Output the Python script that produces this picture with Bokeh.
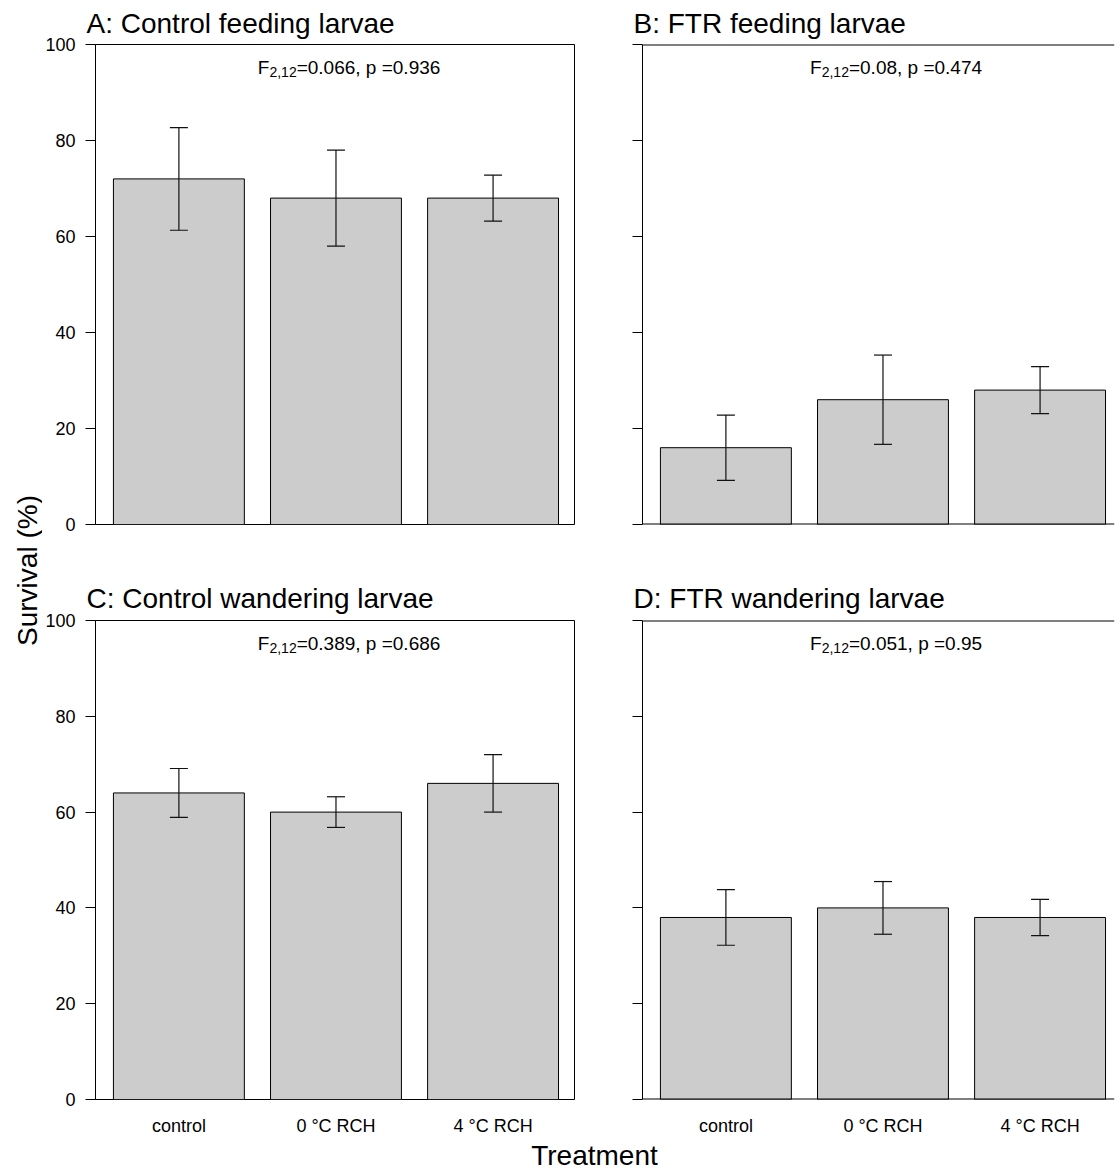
import numpy as np
from bokeh.plotting import figure
from bokeh.models import ColumnDataSource, Range1d, FixedTicker, Whisker, TeeHead, Span
from bokeh.layouts import row, column
from bokeh.embed import file_html
from bokeh.resources import INLINE
from bokeh.core.properties import value

# ---------------- data ----------------
categories = ["control", "0 °C RCH", "4 °C RCH"]
y_ticks = [0, 20, 40, 60, 80, 100]

panel_titles = ["A: Control feeding larvae", "B: FTR feeding larvae",
                "C: Control wandering larvae", "D: FTR wandering larvae"]

survival_a = [72.0, 68.0, 68.0]
se_a = [10.7, 10.0, 4.8]
survival_b = [16.0, 26.0, 28.0]
se_b = [6.8, 9.3, 4.9]
survival_c = [64.0, 60.0, 66.0]
se_c = [5.1, 3.2, 6.0]
survival_d = [38.0, 40.0, 38.0]
se_d = [5.8, 5.5, 3.8]

f_values = ["0.066", "0.08", "0.389", "0.051"]
p_values = ["0.936", "0.474", "0.686", "0.95"]
df_label = "2,12"

y_label = "Survival (%)"
x_label = "Treatment"

# ---------------- helpers ----------------
FONT = "Liberation Sans"
ARIAL_W = {'0': .556, '1': .556, '2': .556, '3': .556, '4': .556, '5': .556,
           '6': .556, '7': .556, '8': .556, '9': .556, '.': .278, ',': .278,
           ' ': .278, '=': .584, 'p': .556, 'F': .611}


def text_width(s, size):
    return sum(ARIAL_W.get(c, .556) for c in s) * size


bar_x = [round(0.7 + 1.2 * i, 3) for i in range(len(categories))]
X_START, X_END_LEFT = 0.063, 3.722
PX_PER_UNIT = 479 / (X_END_LEFT - X_START)
annot_x = 2.0
MAIN_SIZE, SUB_SIZE = 19, 14


def make_panel(idx, vals, errs, left, bottom_row):
    if left:
        width, bl, br = 570, 53, 38
        xr = Range1d(X_START, X_END_LEFT)
    else:
        width, bl, br = 503, 30, 1
        xr = Range1d(X_START, X_START + 472 / PX_PER_UNIT)
    if bottom_row:
        height, bt, bb, t_standoff = 578, 60, 38, 14
    else:
        height, bt, bb, t_standoff = 560, 44, 36, 11

    p = figure(width=width, height=height, x_range=xr, y_range=Range1d(0, 100),
               toolbar_location=None, output_backend="svg",
               min_border_left=bl, min_border_right=br,
               min_border_top=bt, min_border_bottom=bb)
    p.title.text = panel_titles[idx]
    p.title.text_font = FONT
    p.title.text_font_size = "28px"
    p.title.text_font_style = "normal"
    p.title.text_color = "black"
    p.title.align = "left"
    p.title.offset = -9
    p.title.standoff = t_standoff

    p.xgrid.visible = False
    p.ygrid.visible = False
    p.background_fill_color = "white"
    p.border_fill_color = "white"

    # y axis
    ya = p.yaxis[0]
    ya.ticker = FixedTicker(ticks=y_ticks)
    ya.major_tick_out = 10
    ya.major_tick_in = 0
    ya.minor_tick_out = 0
    ya.minor_tick_in = 0
    ya.axis_line_color = "black"
    ya.major_tick_line_color = "black"
    ya.major_label_text_font = FONT
    ya.major_label_text_font_size = "18px"
    ya.major_label_text_color = "black"
    ya.major_label_standoff = 10
    if not left:
        ya.major_label_overrides = {t: "" for t in y_ticks}

    # x axis
    xa = p.xaxis[0]
    if bottom_row:
        xa.ticker = FixedTicker(ticks=bar_x)
        xa.major_label_overrides = {x: c for x, c in zip(bar_x, categories)}
        xa.axis_line_color = None
        xa.major_tick_line_color = None
        xa.minor_tick_line_color = None
        xa.major_tick_out = 0
        xa.major_tick_in = 0
        xa.minor_tick_out = 0
        xa.major_label_standoff = 16
        xa.major_label_text_font = FONT
        xa.major_label_text_font_size = "18px"
        xa.major_label_text_color = "black"
    else:
        xa.visible = False

    if left:
        p.outline_line_color = "black"
        p.outline_line_width = 1
        p.outline_line_alpha = 1
    else:
        p.outline_line_color = None
        for yy in (y_ticks[0], y_ticks[-1]):
            p.add_layout(Span(location=yy, dimension="width",
                              line_color="black", line_width=2))

    src = ColumnDataSource(dict(
        x=bar_x, top=vals,
        upper=[v + e for v, e in zip(vals, errs)],
        lower=[v - e for v, e in zip(vals, errs)]))
    p.vbar(x="x", top="top", bottom=0, width=1.0, source=src,
           fill_color="#cccccc", line_color="black", line_width=1)
    p.add_layout(Whisker(source=src, base="x", upper="upper", lower="lower",
                         level="overlay",
                         line_color="#111111", line_width=1.2,
                         upper_head=TeeHead(size=18, line_color="#111111", line_width=1.2),
                         lower_head=TeeHead(size=18, line_color="#111111", line_width=1.2)))

    # F statistic annotation
    main = "=" + f_values[idx] + ", p =" + p_values[idx]
    wF = text_width("F", MAIN_SIZE)
    wS = text_width(df_label, SUB_SIZE)
    wM = text_width(main, MAIN_SIZE)
    x0 = -(wF + wS + wM) / 2
    common = dict(text_align="left", text_baseline="alphabetic",
                  text_font=value(FONT), text_color="black")
    p.text(x=[annot_x], y=[100], text=["F"], x_offset=x0, y_offset=23,
           text_font_size=f"{MAIN_SIZE}px", **common)
    p.text(x=[annot_x], y=[100], text=[df_label], x_offset=x0 + wF, y_offset=27,
           text_font_size=f"{SUB_SIZE}px", **common)
    p.text(x=[annot_x], y=[100], text=[main], x_offset=x0 + wF + wS, y_offset=23,
           text_font_size=f"{MAIN_SIZE}px", **common)
    return p


pa = make_panel(0, survival_a, se_a, True, False)
pb = make_panel(1, survival_b, se_b, False, False)
pc = make_panel(2, survival_c, se_c, True, True)
pd = make_panel(3, survival_d, se_d, False, True)

# outer y label
LAB_W, LAB_H = 42, 1138
lab = figure(width=LAB_W, height=LAB_H, x_range=Range1d(0, LAB_W), y_range=Range1d(0, LAB_H),
             min_border=0, toolbar_location=None, output_backend="svg",
             outline_line_color=None)
lab.axis.visible = False
lab.grid.visible = False
lab.text(x=[27], y=[568], text=[y_label], angle=np.pi / 2, text_align="center",
         text_baseline="middle", text_font_size="28px", text_font=value(FONT),
         text_color="black")

# outer x label
TR_W, TR_H = 1115, 33
tr = figure(width=TR_W, height=TR_H, x_range=Range1d(0, TR_W), y_range=Range1d(0, TR_H),
            min_border=0, toolbar_location=None, output_backend="svg",
            outline_line_color=None)
tr.axis.visible = False
tr.grid.visible = False
tr.text(x=[594], y=[16.5], text=[x_label], text_align="center",
        text_baseline="middle", text_font_size="28px", text_font=value(FONT),
        text_color="black")

layout = column(row(lab, column(row(pa, pb), row(pc, pd))), tr)

open("out.html", "w").write(file_html(layout, INLINE))
